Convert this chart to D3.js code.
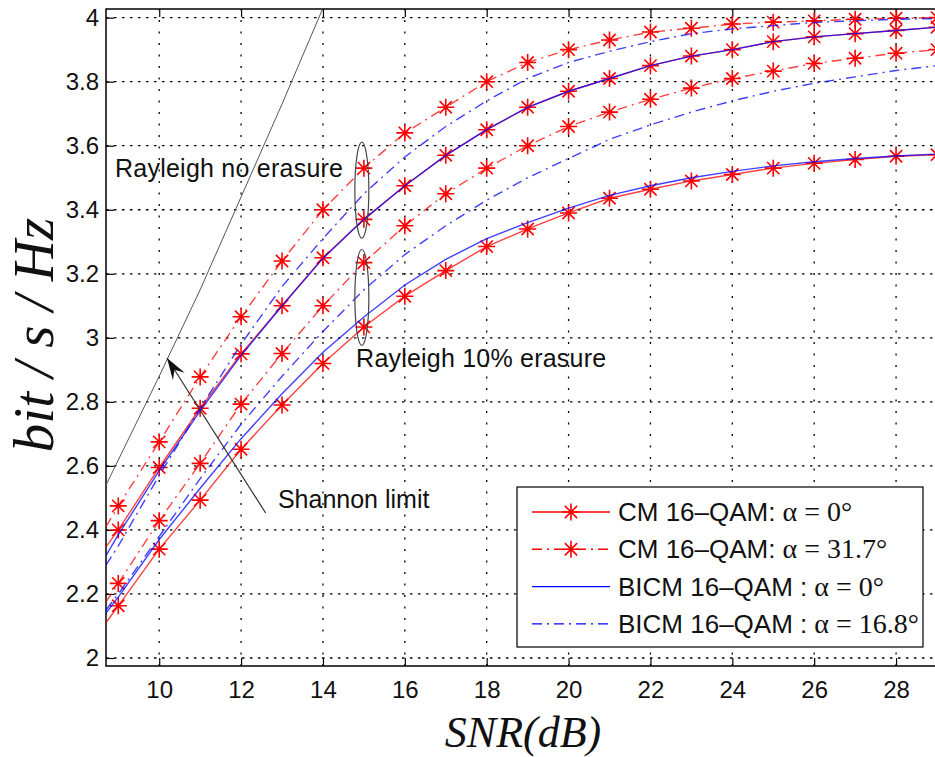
<!DOCTYPE html>
<html>
<head>
<meta charset="utf-8">
<script src="https://cdn.jsdelivr.net/npm/d3@7"></script>
<style>
body { margin: 0; background: #fff; }
</style>
</head>
<body>
<script>
// SNR values (dB); first point is the left edge of the axes
const snr = [8.7, 9, 10, 11, 12, 13, 14, 15, 16, 17, 18, 19, 20, 21, 22, 23, 24, 25, 26, 27, 28, 29];

// Rayleigh, no erasure
const cmNoErasure0   = [2.347, 2.40, 2.595, 2.78, 2.95, 3.10, 3.25, 3.37, 3.475, 3.57, 3.65, 3.72, 3.77, 3.81, 3.85, 3.88, 3.90, 3.925, 3.94, 3.95, 3.96, 3.97];
const cmNoErasure317 = [2.41, 2.475, 2.675, 2.878, 3.066, 3.24, 3.40, 3.53, 3.64, 3.72, 3.80, 3.86, 3.90, 3.93, 3.955, 3.967, 3.98, 3.986, 3.99, 3.995, 3.998, 4.0];
const bicmNoErasure0   = [2.32, 2.385, 2.585, 2.772, 2.945, 3.10, 3.248, 3.37, 3.475, 3.57, 3.65, 3.72, 3.77, 3.81, 3.85, 3.88, 3.90, 3.925, 3.94, 3.95, 3.96, 3.97];
const bicmNoErasure168 = [2.29, 2.35, 2.57, 2.78, 2.98, 3.16, 3.31, 3.45, 3.565, 3.66, 3.74, 3.81, 3.86, 3.895, 3.925, 3.95, 3.965, 3.975, 3.985, 3.99, 3.995, 3.997];

// Rayleigh, 10% erasure
const cmErasure0   = [2.11, 2.163, 2.34, 2.493, 2.652, 2.79, 2.92, 3.034, 3.13, 3.21, 3.285, 3.34, 3.39, 3.436, 3.464, 3.49, 3.51, 3.53, 3.545, 3.557, 3.567, 3.572];
const cmErasure317 = [2.175, 2.233, 2.429, 2.608, 2.793, 2.951, 3.10, 3.235, 3.35, 3.45, 3.53, 3.60, 3.66, 3.705, 3.745, 3.78, 3.81, 3.833, 3.857, 3.873, 3.889, 3.90];
const bicmErasure0   = [2.14, 2.19, 2.37, 2.53, 2.685, 2.825, 2.955, 3.065, 3.165, 3.245, 3.31, 3.36, 3.405, 3.445, 3.475, 3.50, 3.52, 3.537, 3.55, 3.56, 3.568, 3.574];
const bicmErasure168 = [2.15, 2.20, 2.38, 2.56, 2.73, 2.88, 3.02, 3.15, 3.26, 3.35, 3.43, 3.50, 3.56, 3.62, 3.665, 3.705, 3.74, 3.77, 3.795, 3.815, 3.835, 3.85];

// Shannon limit
const shannonSnr = [8.7, 10, 11, 12, 13, 14];
const shannonVal = [2.54, 2.88, 3.15, 3.44, 3.73, 4.03];

const xTicks = [10, 12, 14, 16, 18, 20, 22, 24, 26, 28];
const yTicks = [2, 2.2, 2.4, 2.6, 2.8, 3, 3.2, 3.4, 3.6, 3.8, 4];

const legendLabels = [
  ["CM 16\u2013QAM:", " \u03b1 = 0\u00b0"],
  ["CM 16\u2013QAM:", " \u03b1 = 31.7\u00b0"],
  ["BICM 16\u2013QAM :", " \u03b1 = 0\u00b0"],
  ["BICM 16\u2013QAM :", " \u03b1 = 16.8\u00b0"]
];

const W = 935, H = 757;
const sans = "'Liberation Sans', Arial, Helvetica, sans-serif";
const serif = "'Liberation Serif', 'Times New Roman', serif";
const dashDot = "10,5,2,5";

const styles = [
  { color: "#ff0000", dash: null, star: true },
  { color: "#ff0000", dash: dashDot, star: true },
  { color: "#0000ff", dash: null, star: false },
  { color: "#0000ff", dash: dashDot, star: false }
];

const series = [
  { values: cmNoErasure0, style: 0 },
  { values: cmErasure0, style: 0 },
  { values: cmNoErasure317, style: 1 },
  { values: cmErasure317, style: 1 },
  { values: bicmNoErasure0, style: 2 },
  { values: bicmErasure0, style: 2 },
  { values: bicmNoErasure168, style: 3 },
  { values: bicmErasure168, style: 3 }
];

const svg = d3.select("body").append("svg")
  .attr("width", W).attr("height", H)
  .style("font-family", sans);

const x = d3.scaleLinear().domain([8.7, 29]).range([106, 937]);
const y = d3.scaleLinear().domain([1.975, 4.027]).range([666, 9]);
const [x0, x1] = x.range();
const [y0, y1] = y.range();

svg.append("clipPath").attr("id", "plot")
  .append("rect").attr("x", x0).attr("y", y1).attr("width", x1 - x0).attr("height", y0 - y1);

// grid
const grid = svg.append("g").attr("stroke", "#000").attr("stroke-width", 1.3);
grid.selectAll(".gx").data(xTicks).enter().append("line")
  .attr("x1", d => x(d)).attr("x2", d => x(d))
  .attr("y1", y0).attr("y2", y1)
  .attr("stroke-dasharray", "2,9.5");
grid.selectAll(".gy").data(yTicks).enter().append("line")
  .attr("y1", d => y(d)).attr("y2", d => y(d))
  .attr("x1", x0).attr("x2", x1)
  .attr("stroke-dasharray", "2.5,5.5");

// axes
const fmt = d => String(+d.toFixed(1));
const yAxis = svg.append("g").attr("transform", `translate(${x0},0)`)
  .call(d3.axisLeft(y).tickValues(yTicks).tickFormat(fmt).tickSize(-8).tickSizeOuter(0).tickPadding(7));
const xAxis = svg.append("g").attr("transform", `translate(0,${y0})`)
  .call(d3.axisBottom(x).tickValues(xTicks).tickSize(-8).tickSizeOuter(0).tickPadding(15));
const xTop = svg.append("g").attr("transform", `translate(0,${y1})`)
  .call(d3.axisTop(x).tickValues(xTicks).tickFormat("").tickSize(-8).tickSizeOuter(0));
[yAxis, xAxis, xTop].forEach(a => {
  a.select(".domain").remove();
  a.selectAll("line").attr("stroke", "#000").attr("stroke-width", 1.2);
  a.selectAll("text").attr("font-family", sans).attr("font-size", 24).attr("fill", "#111");
});

svg.append("rect")
  .attr("x", x0).attr("y", y1).attr("width", x1 - x0).attr("height", y0 - y1)
  .attr("fill", "none").attr("stroke", "#000").attr("stroke-width", 1.5);

// curves
const plot = svg.append("g").attr("clip-path", "url(#plot)");
const line = d3.line().x(d => x(d[0])).y(d => y(d[1]));

plot.append("path")
  .attr("d", line(d3.zip(shannonSnr, shannonVal)))
  .attr("fill", "none").attr("stroke", "#555").attr("stroke-width", 1);

const starPath = r => {
  const d = r * 0.72;
  return `M${-r},0H${r}M0,${-r}V${r}M${-d},${-d}L${d},${d}M${-d},${d}L${d},${-d}`;
};

series.forEach(s => {
  const st = styles[s.style];
  const pts = d3.zip(snr, s.values);
  plot.append("path")
    .attr("d", line(pts))
    .attr("fill", "none")
    .attr("stroke", st.color)
    .attr("stroke-width", 1.4)
    .attr("stroke-opacity", 0.75)
    .attr("stroke-dasharray", st.dash);
  if (st.star) {
    plot.selectAll(null).data(pts.filter(p => Number.isInteger(p[0]))).enter().append("path")
      .attr("transform", p => `translate(${x(p[0])},${y(p[1])})`)
      .attr("d", starPath(8.5))
      .attr("fill", "none").attr("stroke", st.color).attr("stroke-width", 1.6);
  }
});

// annotations
const ann = svg.append("g").attr("fill", "#111").attr("font-size", 25);
ann.append("text").attr("x", x(8.92)).attr("y", y(3.502)).attr("textLength", 228).text("Rayleigh no erasure");
ann.append("text").attr("x", x(14.81)).attr("y", y(2.909)).attr("textLength", 250).text("Rayleigh 10% erasure");
ann.append("text").attr("x", x(12.9)).attr("y", y(2.468)).text("Shannon limit");

svg.selectAll(".ell").data([[14.95, 3.461], [14.95, 3.126]]).enter().append("ellipse")
  .attr("cx", d => x(d[0])).attr("cy", d => y(d[1]))
  .attr("rx", 7).attr("ry", 48)
  .attr("fill", "none").attr("stroke", "#444").attr("stroke-width", 1.2);

// arrow to the Shannon limit
const tip = [x(10.19), y(2.937)], tail = [x(12.6), y(2.453)];
svg.append("line")
  .attr("x1", tail[0]).attr("y1", tail[1]).attr("x2", tip[0]).attr("y2", tip[1])
  .attr("stroke", "#333").attr("stroke-width", 1.2);
const ang = Math.atan2(tail[1] - tip[1], tail[0] - tip[0]);
const hl = 22, hw = 7;
const bx = tip[0] + hl * Math.cos(ang), by = tip[1] + hl * Math.sin(ang);
const nx = -Math.sin(ang), ny = Math.cos(ang);
svg.append("path")
  .attr("d", `M${tip[0]},${tip[1]}L${bx + hw * nx},${by + hw * ny}L${tip[0] + 14 * Math.cos(ang)},${tip[1] + 14 * Math.sin(ang)}L${bx - hw * nx},${by - hw * ny}Z`)
  .attr("fill", "#111");

// axis titles
svg.append("text")
  .attr("transform", "translate(53,335) rotate(-90)")
  .attr("text-anchor", "middle")
  .attr("font-family", serif).attr("font-style", "italic").attr("font-size", 57)
  .attr("fill", "#111")
  .text("bit / s / Hz");
svg.append("text")
  .attr("x", 523).attr("y", 747)
  .attr("text-anchor", "middle")
  .attr("font-family", serif).attr("font-style", "italic").attr("font-size", 44)
  .attr("fill", "#111")
  .text("SNR(dB)");

// legend
const lg = svg.append("g");
lg.append("rect").attr("x", 517).attr("y", 487).attr("width", 406).attr("height", 160)
  .attr("fill", "#fff").attr("stroke", "#000").attr("stroke-width", 1.2);
legendLabels.forEach((lab, i) => {
  const st = styles[i];
  const cy = 512 + i * 37.3;
  lg.append("line").attr("x1", 532).attr("x2", 610).attr("y1", cy).attr("y2", cy)
    .attr("stroke", st.color).attr("stroke-width", 1.4).attr("stroke-dasharray", st.dash);
  if (st.star) {
    lg.append("path").attr("transform", `translate(571,${cy})`).attr("d", starPath(8.5))
      .attr("fill", "none").attr("stroke", st.color).attr("stroke-width", 1.6);
  }
  const t = lg.append("text").attr("x", 618).attr("y", cy + 9).attr("font-size", 26).attr("fill", "#111");
  t.append("tspan").text(lab[0]);
  t.append("tspan").attr("font-family", serif).attr("font-size", 28).text(lab[1]);
});
</script>
</body>
</html>
